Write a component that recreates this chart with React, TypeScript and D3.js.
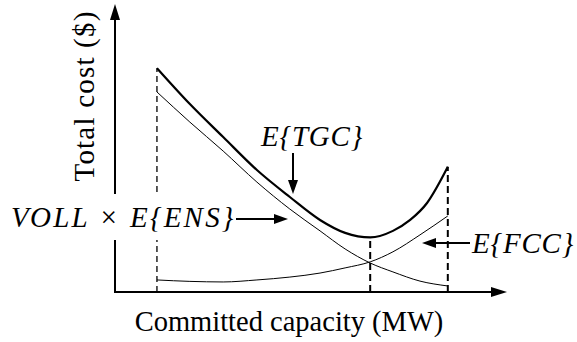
import React from "react";
import * as d3 from "d3";

// Committed capacity (arbitrary units 0..100) and cost (arbitrary units 0..100)
const tgcX = [10.7, 19.1, 27.6, 36.2, 44.6, 52.3, 58.7, 65.1, 70.9, 75.3, 79.6, 84.9];
const tgcY = [78.0, 65.5, 54.0, 42.5, 33.1, 25.1, 20.6, 19.0, 21.3, 25.1, 31.0, 43.6];
const ensX = [10.7, 19.1, 27.6, 36.2, 44.6, 52.3, 58.7, 65.1, 70.9, 77.8, 84.9];
const ensY = [69.7, 59.2, 49.1, 38.3, 28.9, 21.3, 15.0, 10.1, 7.0, 3.8, 2.1];
const fccX = [10.7, 19.1, 27.6, 36.2, 44.6, 52.3, 58.7, 65.1, 70.9, 77.8, 84.9];
const fccY = [4.2, 3.7, 3.5, 4.2, 5.2, 6.6, 8.4, 10.5, 14.0, 19.9, 26.5];
const markerX = [10.7, 65.1, 84.9];
const xLabel = "Committed capacity (MW)";
const yLabel = "Total cost ($)";
const tgcLabel = "E{TGC}";
const ensLabel = "VOLL × E{ENS}";
const fccLabel = "E{FCC}";

const W = 577;
const H = 342;

export default function App() {
  const x = d3.scaleLinear().domain([0, 100]).range([115, 507]);
  const y = d3.scaleLinear().domain([0, 100]).range([292, 5]);
  const line = d3
    .line<[number, number]>()
    .x((d) => x(d[0]))
    .y((d) => y(d[1]))
    .curve(d3.curveMonotoneX);
  const tgc = tgcX.map((v, i) => [v, tgcY[i]] as [number, number]);
  const ens = ensX.map((v, i) => [v, ensY[i]] as [number, number]);
  const fcc = fccX.map((v, i) => [v, fccY[i]] as [number, number]);
  const tgcAt = (xv: number) => tgcY[tgcX.indexOf(xv)];
  const x0 = x(0);
  const y0 = y(0);
  const serif = '"Liberation Serif"';

  return (
    <svg
      width={W}
      height={H}
      style={{ position: "absolute", left: 0, top: 0, background: "#fff" }}
    >
      <rect x={0} y={0} width={W} height={H} fill="#fff" />
      {markerX.map((m, i) => (
        <line
          key={i}
          x1={x(m)}
          x2={x(m)}
          y1={y0}
          y2={y(tgcAt(m))}
          stroke="#000"
          strokeWidth={i === 0 ? 1.3 : 2}
          strokeDasharray={i === 0 ? "6,4" : "7,4"}
        />
      ))}
      <path d={line(ens) || ""} fill="none" stroke="#000" strokeWidth={1} />
      <path d={line(fcc) || ""} fill="none" stroke="#000" strokeWidth={1} />
      <path d={line(tgc) || ""} fill="none" stroke="#000" strokeWidth={2.2} />

      <line x1={x0} x2={x0} y1={y0 + 1} y2={18} stroke="#000" strokeWidth={2} />
      <path d={`M${x0 - 5},${20} L${x0},${4} L${x0 + 5},${20} Z`} fill="#000" />
      <line x1={x0 - 1} x2={x(100) - 14} y1={y0} y2={y0} stroke="#000" strokeWidth={2} />
      <path d={`M${x(100) - 16},${y0 - 5} L${x(100)},${y0} L${x(100) - 16},${y0 + 5} Z`} fill="#000" />

      <text x={289} y={331} style={{ fontFamily: serif }} fontSize={28.5} textAnchor="middle">
        {xLabel}
      </text>
      <text
        transform="translate(94,96) rotate(-90)"
        style={{ fontFamily: serif, letterSpacing: "1.2px" }}
        fontSize={29}
        textAnchor="middle"
      >
        {yLabel}
      </text>

      <text x={261} y={146} style={{ fontFamily: serif, fontStyle: "italic", letterSpacing: "0.8px" }} fontSize={29}>
        {tgcLabel}
      </text>
      <line x1={293} x2={293} y1={153} y2={182} stroke="#000" strokeWidth={2} />
      <path d="M288,180 L293,194 L298,180 Z" fill="#000" />

      <rect x={6} y={194} width={230} height={46} fill="#fff" />
      <text x={11} y={227} style={{ fontFamily: serif, fontStyle: "italic", letterSpacing: "2.2px" }} fontSize={29}>
        {ensLabel}
      </text>
      <line x1={236} x2={276} y1={219} y2={219} stroke="#000" strokeWidth={2} />
      <path d="M274,214 L288,219 L274,224 Z" fill="#000" />

      <text x={472} y={253} style={{ fontFamily: serif, fontStyle: "italic", letterSpacing: "0.8px" }} fontSize={29}>
        {fccLabel}
      </text>
      <line x1={470} x2={434} y1={243} y2={243} stroke="#000" strokeWidth={2} />
      <path d="M436,238 L422,243 L436,248 Z" fill="#000" />
    </svg>
  );
}
